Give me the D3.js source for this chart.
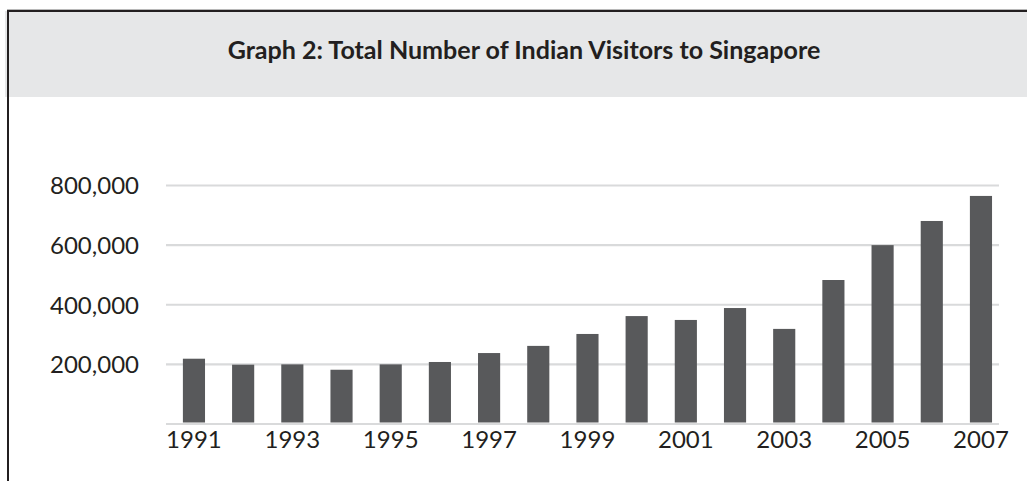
<!DOCTYPE html>
<html>
<head>
<meta charset="utf-8">
<script src="https://cdn.jsdelivr.net/npm/d3@7"></script>
<style>
  html, body { margin: 0; padding: 0; background: #ffffff; }
  svg { display: block; }
</style>
</head>
<body>
<svg id="chart" width="1027" height="481"></svg>
<script>
const title = "Graph 2: Total Number of Indian Visitors to Singapore";
const years = ["1991","1992","1993","1994","1995","1996","1997","1998","1999","2000","2001","2002","2003","2004","2005","2006","2007"];
const visitors = [219000, 199000, 200000, 182000, 200000, 208000, 238000, 262000, 302000, 362000, 349000, 389000, 319000, 483000, 600000, 681000, 765000];
const yTicks = [200000, 400000, 600000, 800000];
const xTickLabels = ["1991","1993","1995","1997","1999","2001","2003","2005","2007"];

const svg = d3.select("#chart");
const FONT = "Lato, 'Open Sans', sans-serif";
const TEXT = "#231f20";

// header band
svg.append("rect").attr("x", 5).attr("y", 11).attr("width", 1022).attr("height", 86).attr("fill", "#e6e7e8");
svg.append("line").attr("x1", 7).attr("x2", 1027).attr("y1", 9.5).attr("y2", 9.5).attr("stroke", "#b8b8b8").attr("stroke-width", 1);
svg.append("line").attr("x1", 7).attr("x2", 1027).attr("y1", 11).attr("y2", 11).attr("stroke", TEXT).attr("stroke-width", 2);
svg.append("line").attr("x1", 8).attr("x2", 8).attr("y1", 10).attr("y2", 481).attr("stroke", TEXT).attr("stroke-width", 2);

const t = svg.append("text")
  .attr("x", 524).attr("y", 59)
  .attr("text-anchor", "middle")
  .attr("font-family", FONT).attr("font-weight", 700).attr("font-size", 20)
  .attr("fill", TEXT)
  .text(title);
// fit the title to the reference width
const tw = t.node().getComputedTextLength();
t.attr("font-size", 20 * 593 / tw);

const x = d3.scaleBand().domain(years).range([166, 999])
  .paddingInner(0.55).paddingOuter(0.2425).align(0.708);
const y = d3.scaleLinear().domain([0, 800000]).range([424, 185.5]);

// gridlines
const grid = svg.append("g");
grid.selectAll("line").data([0].concat(yTicks)).join("line")
  .attr("x1", 166).attr("x2", 999)
  .attr("y1", d => y(d)).attr("y2", d => y(d))
  .attr("stroke", "#d9dadb").attr("stroke-width", 2.2);

// bars
svg.append("g").selectAll("rect").data(visitors).join("rect")
  .attr("x", (d, i) => x(years[i]))
  .attr("width", x.bandwidth())
  .attr("y", d => y(d))
  .attr("height", d => y(0) - 1.5 - y(d))
  .attr("fill", "#58595b");

// y axis labels
const yAxis = d3.axisLeft(y).tickValues(yTicks).tickSize(0).tickPadding(0)
  .tickFormat(d3.format(","));
const gy = svg.append("g").attr("transform", "translate(139,0)").call(yAxis);
gy.select(".domain").remove();
gy.selectAll("text").attr("font-family", FONT).attr("font-size", 24).attr("fill", TEXT).attr("dy", "0.35em");

// x axis labels
const xAxis = d3.axisBottom(x).tickValues(xTickLabels).tickSize(0).tickPadding(0);
const gx = svg.append("g").attr("transform", "translate(0,431)").call(xAxis);
gx.select(".domain").remove();
gx.selectAll("text").attr("font-family", FONT).attr("font-size", 24).attr("fill", TEXT).attr("dy", "0.71em");
</script>
</body>
</html>
